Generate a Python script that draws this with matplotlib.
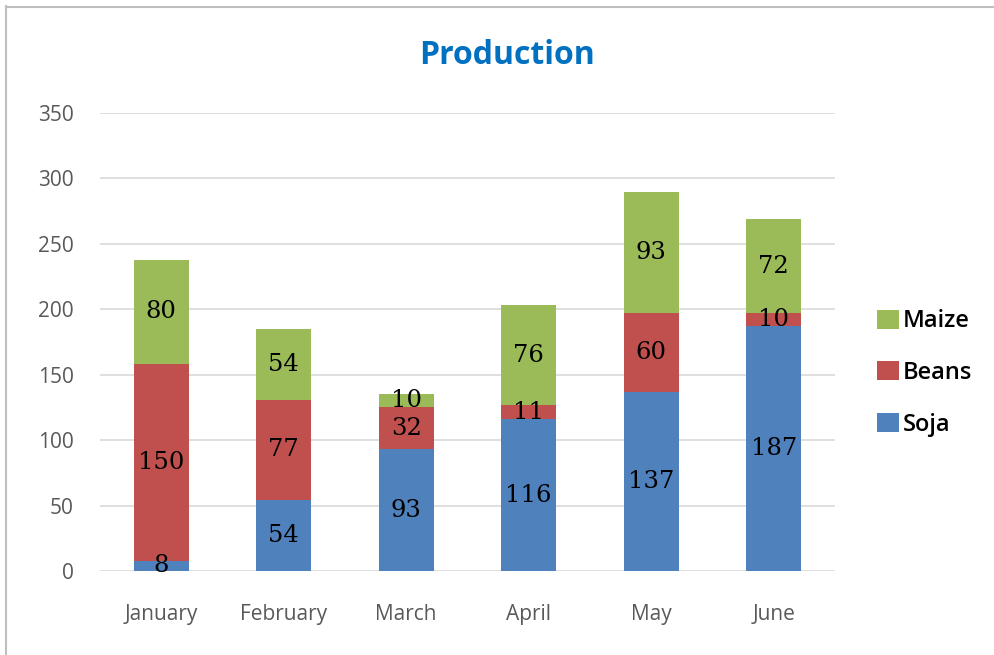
import matplotlib
matplotlib.use("Agg")
import matplotlib.pyplot as plt
from matplotlib.lines import Line2D
from matplotlib.patches import Patch

months = ["January", "February", "March", "April", "May", "June"]
soja = [8, 54, 93, 116, 137, 187]
beans = [150, 77, 32, 11, 60, 10]
maize = [80, 54, 10, 76, 93, 72]
yticks = [0, 50, 100, 150, 200, 250, 300, 350]

c_soja = "#4F81BD"
c_beans = "#C0504D"
c_maize = "#9BBB59"

fig = plt.figure(figsize=(9.95, 6.55), dpi=100)
ax = fig.add_axes([100 / 995, 84 / 655, 735 / 995, 458 / 655])

x = list(range(len(months)))
w = 0.45
ax.bar(x, soja, width=w, color=c_soja, zorder=2)
bottom2 = soja
ax.bar(x, beans, width=w, bottom=bottom2, color=c_beans, zorder=2)
bottom3 = [s + b for s, b in zip(soja, beans)]
ax.bar(x, maize, width=w, bottom=bottom3, color=c_maize, zorder=2)

lab_font = dict(family="DejaVu Serif", fontsize=17.5, color="black",
                ha="center", va="center", zorder=4)
for i in x:
    ax.text(i, soja[i] / 2, str(soja[i]), **lab_font)
    ax.text(i, bottom2[i] + beans[i] / 2, str(beans[i]), **lab_font)
    ax.text(i, bottom3[i] + maize[i] / 2, str(maize[i]), **lab_font)

ax.set_xlim(-0.5, len(months) - 0.5)
ax.set_ylim(0, 350)
ax.set_yticks(yticks)
ax.set_xticks(x)
ax.set_xticklabels(months)
ax.yaxis.grid(True, color="#D9D9D9", linewidth=1.2, zorder=0)
ax.set_axisbelow(True)
for s in ax.spines.values():
    s.set_visible(False)
ax.tick_params(axis="both", length=0, colors="#595959", labelsize=15)
ax.tick_params(axis="y", pad=19)
ax.tick_params(axis="x", pad=24)
for t in ax.get_xticklabels() + ax.get_yticklabels():
    t.set_fontfamily("Open Sans")

fig.text(507 / 995, 1 - 56 / 655, "Production", ha="center", va="center",
         fontsize=23, fontweight="bold", color="#0070C0", family="Open Sans")

handles = [Patch(facecolor=c_maize), Patch(facecolor=c_beans), Patch(facecolor=c_soja)]
fig.legend(handles, ["Maize", "Beans", "Soja"], loc="center left",
           bbox_to_anchor=(877 / 995, 1 - 373 / 655), frameon=False,
           borderpad=0, borderaxespad=0,
           prop=dict(family="Open Sans", size=17, weight="semibold"),
           handlelength=0.93, handleheight=0.85, handletextpad=0.17,
           labelspacing=1.17)

# chart frame
fig.add_artist(Line2D([6 / 995, 1], [1 - 6.5 / 655, 1 - 6.5 / 655],
                      transform=fig.transFigure, color="#BFBFBF", linewidth=1.5))
fig.add_artist(Line2D([6.5 / 995, 6.5 / 995], [0, 1 - 6 / 655],
                      transform=fig.transFigure, color="#BFBFBF", linewidth=1.5))

fig.savefig("out.png", dpi=100, facecolor="white")
